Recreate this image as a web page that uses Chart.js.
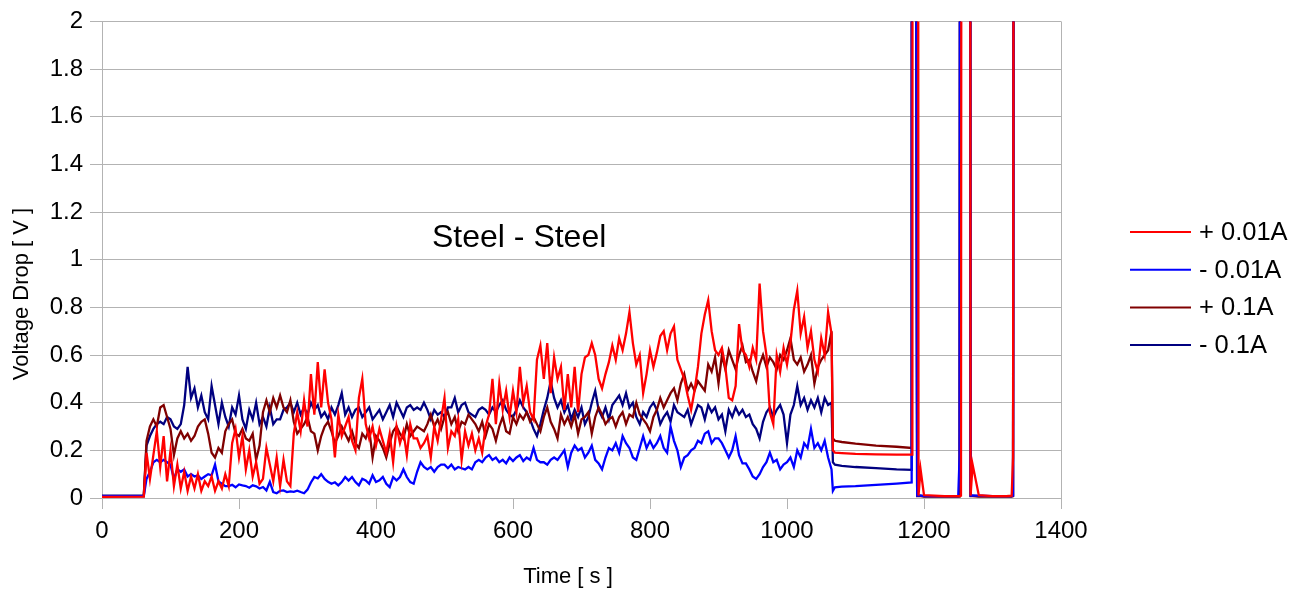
<!DOCTYPE html>
<html>
<head>
<meta charset="utf-8">
<script src="https://cdn.jsdelivr.net/npm/chart.js@4.4.0/dist/chart.umd.min.js"></script>
<style>
  html, body { margin: 0; padding: 0; background: #fff; }
</style>
</head>
<body>
<canvas id="dropChart" width="1302" height="592"></canvas>
<script>
// time axis [s]
const time = [
  0, 61,
  65, 70, 75, 80, 85, 90, 95, 100, 105, 110,
  115, 120, 125, 130, 135, 140, 145, 150, 155, 160,
  165, 170, 175, 180, 185, 190, 195, 200, 205, 210,
  215, 220, 225, 230, 235, 240, 245, 250, 255, 260,
  265, 270, 275, 280, 285, 290, 295, 300, 305, 310,
  315, 320, 325, 330, 335, 340, 345, 350, 355, 360,
  365, 370, 375, 380, 385, 390, 395, 400, 405, 410,
  415, 420, 425, 430, 435, 440, 445, 450, 455, 460,
  465, 470, 475, 480, 485, 490, 495, 500, 505, 510,
  515, 520, 525, 530, 535, 540, 545, 550, 555, 560,
  565, 570, 575, 580, 585, 590, 595, 600, 605, 610,
  615, 620, 625, 630, 635, 640, 645, 650, 655, 660,
  665, 670, 675, 680, 685, 690, 695, 700, 705, 710,
  715, 720, 725, 730, 735, 740, 745, 750, 755, 760,
  765, 770, 775, 780, 785, 790, 795, 800, 805, 810,
  815, 820, 825, 830, 835, 840, 845, 850, 855, 860,
  865, 870, 875, 880, 885, 890, 895, 900, 905, 910,
  915, 920, 925, 930, 935, 940, 945, 950, 955, 960,
  965, 970, 975, 980, 985, 990, 995, 1000, 1005, 1010,
  1015, 1020, 1025, 1030, 1035, 1040, 1045, 1050, 1055, 1060,
  1065,
  1067, 1070, 1080, 1100, 1130, 1160, 1182, 1183, 1184, 1190, 1192, 1195, 1200, 1230,
  1250, 1252, 1254, 1256, 1266, 1268, 1271, 1280, 1300, 1320, 1328, 1330, 1333
];

// + 0.01A
const plus001 = [
  0.005, 0.006,
  .19, .08, .18, .28, .13, .26, .07, .2, .05, .14,
  .04, .11, .03, .09, .04, .1, .03, .07, .05, .09,
  .03, .07, .04, .1, .05, .23, .29, .17, .26, .12,
  .2, .09, .15, .06, .08, .21, .14, .07, .17, .05,
  .16, .07, .05, .27, .36, .28, .41, .3, .52, .35,
  .57, .38, .54, .4, .33, .17, .35, .26, .3, .34,
  .24, .2, .42, .5, .31, .25, .3, .22, .29, .24,
  .19, .27, .15, .3, .23, .28, .18, .31, .25, .25,
  .21, .23, .26, .17, .3, .24, .33, .42, .21, .28,
  .26, .33, .16, .28, .22, .27, .2, .25, .19, .3,
  .35, .5, .31, .48, .37, .45, .34, .45, .36, .55,
  .4, .47, .36, .33, .58, .64, .5, .65, .44, .59,
  .5, .55, .37, .52, .38, .55, .36, .52, .59, .6,
  .65, .6, .5, .46, .52, .57, .64, .58, .67, .62,
  .69, .78, .65, .56, .6, .44, .52, .62, .55, .61,
  .68, .7, .62, .69, .72, .58, .54, .5, .43, .37,
  .45, .55, .69, .77, .83, .7, .62, .6, .63, .55,
  .42, .41, .47, .73, .62, .6, .55, .63, .58, .9,
  .7, .6, .36, .31, .6, .53, .63, .56, .65, .79,
  .87, .69, .76, .63, .7, .58, .53, .67, .6, .78,
  .69,
  .2, .19, .188, .185, .183, .182, .182, .182, 10, 10, .01, .12, .012, .008,
  .008, .008, .01, 10, 10, .01, .14, .012, .008, .008, .01, .17, 10
];

// - 0.01A
const minus001 = [
  0.008, 0.008,
  .08, .11, .15, .16, .15, .16, .15, .14, .08, .12,
  .11, .12, .09, .1, .09, .095, .08, .09, .1, .095,
  .14, .07, .06, .05, .05, .055, .045, .057, .053, .05,
  .043, .053, .049, .04, .046, .032, .068, .025, .02, .03,
  .032, .025, .028, .026, .031, .025, .02, .035, .065, .088,
  .082, .1, .08, .068, .06, .066, .053, .067, .088, .073,
  .088, .067, .053, .081, .074, .06, .095, .067, .074, .088,
  .06, .046, .088, .074, .088, .12, .088, .067, .06, .11,
  .15, .13, .12, .13, .11, .13, .14, .14, .125, .14,
  .12, .13, .125, .12, .13, .12, .15, .16, .15, .17,
  .18, .16, .17, .15, .16, .145, .17, .155, .17, .18,
  .155, .17, .16, .21, .16, .15, .15, .14, .16, .17,
  .16, .18, .2, .13, .19, .22, .2, .21, .17, .19,
  .22, .16, .145, .12, .17, .21, .2, .23, .19, .26,
  .23, .21, .17, .16, .21, .26, .21, .24, .21, .23,
  .26, .21, .19, .3, .24, .2, .13, .17, .18, .2,
  .21, .24, .23, .27, .28, .23, .25, .25, .23, .2,
  .17, .2, .26, .18, .145, .145, .12, .09, .08, .1,
  .13, .15, .19, .15, .16, .12, .14, .15, .17, .13,
  .2, .17, .23, .21, .29, .21, .23, .2, .24, .17,
  .12,
  .03, .045, .048, .05, .055, .06, .065, 10, 10, .01, .01, .01, .008, .008,
  .008, .18, 10, 10, 10, .01, .01, .01, .008, .008, .008, .01, 10
];

// + 0.1A
const plus01 = [
  0.008, 0.008,
  .24, .3, .33, .3, .38, .39, .34, .29, .18, .25,
  .28, .25, .27, .24, .26, .3, .32, .33, .27, .19,
  .17, .21, .19, .28, .31, .33, .27, .26, .29, .25,
  .24, .27, .16, .22, .36, .41, .36, .42, .38, .43,
  .38, .36, .41, .32, .27, .29, .31, .34, .28, .27,
  .2, .26, .3, .32, .28, .23, .26, .3, .27, .24,
  .28, .23, .21, .27, .25, .29, .17, .26, .24, .21,
  .17, .23, .28, .3, .27, .25, .31, .26, .28, .3,
  .29, .28, .31, .35, .3, .33, .29, .34, .36, .31,
  .34, .28, .32, .31, .35, .33, .31, .28, .32, .26,
  .31, .29, .24, .3, .34, .28, .27, .34, .31, .35,
  .33, .36, .32, .34, .31, .28, .34, .38, .32, .29,
  .25, .35, .31, .34, .3, .35, .27, .33, .34, .36,
  .27, .34, .38, .35, .31, .33, .34, .3, .34, .36,
  .31, .35, .34, .4, .35, .33, .31, .28, .34, .37,
  .42, .38, .41, .44, .46, .41, .48, .52, .45, .48,
  .45, .49, .47, .45, .56, .53, .59, .48, .6, .54,
  .62, .58, .54, .6, .64, .57, .58, .53, .49, .56,
  .6, .55, .59, .57, .54, .6, .58, .62, .67, .58,
  .56, .59, .53, .56, .6, .48, .55, .58, .6, .62,
  .7,
  .25, .24, .235, .228, .22, .215, .21, 10, 10, .008, .008, .008, .006, .006,
  .006, .006, 10, 10, 10, .008, .008, .006, .006, .006, .006, .008, 10
];

// - 0.1A
const minus01 = [
  0.01, 0.01,
  .22, .26, .29, .31, .32, .31, .34, .33, .3, .29,
  .31, .39, .55, .42, .46, .38, .43, .36, .33, .47,
  .39, .31, .4, .34, .3, .38, .35, .43, .33, .29,
  .37, .33, .4, .31, .34, .3, .38, .31, .33, .33,
  .37, .38, .4, .36, .4, .35, .38, .35, .4, .37,
  .39, .34, .36, .33, .38, .35, .39, .44, .35, .38,
  .34, .37, .38, .34, .36, .38, .33, .35, .37, .33,
  .36, .39, .34, .4, .37, .34, .38, .39, .37, .38,
  .37, .4, .37, .33, .37, .35, .36, .34, .38, .38,
  .42, .36, .39, .4, .36, .35, .34, .37, .38, .37,
  .35, .38, .36, .39, .41, .37, .35, .34, .37, .41,
  .38, .36, .33, .29, .26, .31, .37, .42, .49, .42,
  .38, .41, .36, .39, .33, .37, .34, .38, .31, .34,
  .4, .45, .37, .34, .38, .33, .39, .41, .43, .39,
  .44, .38, .4, .34, .31, .36, .34, .38, .4, .37,
  .31, .34, .36, .32, .39, .36, .35, .34, .37, .31,
  .35, .39, .38, .33, .39, .36, .38, .33, .35, .28,
  .37, .34, .38, .35, .37, .34, .35, .31, .29, .25,
  .32, .36, .38, .34, .37, .39, .35, .23, .35, .39,
  .47, .39, .42, .37, .41, .38, .42, .36, .42, .39,
  .4,
  .15, .14, .135, .13, .125, .12, .118, 10, 10, .01, .01, .01, .008, .008,
  .008, .01, 10, 10, 10, .01, .01, .008, .008, .008, .008, .01, 10
];

const seriesNames = ['+ 0.01A', '- 0.01A', '+ 0.1A', '- 0.1A'];
const seriesColors = ['#ff0000', '#0000ff', '#800000', '#000080'];
const seriesValues = [plus001, minus001, plus01, minus01];

const annotation = 'Steel - Steel';
const xTitle = 'Time [ s ]';
const yTitle = 'Voltage Drop [ V ]';

const FONT = '"Liberation Sans", Arial, sans-serif';
const GRID = '#b3b3b3';

// legend, axis titles and the in-plot label
const extraText = {
  id: 'extraText',
  afterDraw(chart) {
    const { ctx } = chart;
    const x = chart.scales.x, y = chart.scales.y;
    ctx.save();
    ctx.fillStyle = '#000';
    ctx.textBaseline = 'middle';

    ctx.font = '32px ' + FONT;
    ctx.textAlign = 'center';
    ctx.fillText(annotation, x.getPixelForValue(609), y.getPixelForValue(1.09));

    ctx.font = '22px ' + FONT;
    ctx.fillText(xTitle, 568, 577);
    ctx.save();
    ctx.translate(22, 294);
    ctx.rotate(-Math.PI / 2);
    ctx.fillText(yTitle, 0, 0);
    ctx.restore();

    ctx.font = '25.5px ' + FONT;
    ctx.textAlign = 'left';
    chart.data.datasets.forEach((ds, i) => {
      const ly = 232 + i * 37.7;
      ctx.strokeStyle = ds.borderColor;
      ctx.lineWidth = 2;
      ctx.beginPath();
      ctx.moveTo(1130, ly);
      ctx.lineTo(1191, ly);
      ctx.stroke();
      ctx.fillText(ds.label, 1199, ly + 1);
    });
    ctx.restore();
  }
};

new Chart(document.getElementById('dropChart'), {
  type: 'line',
  data: {
    datasets: seriesNames.map((name, k) => ({
      label: name,
      data: time.map((t, i) => ({ x: t, y: seriesValues[k][i] })),
      borderColor: seriesColors[k],
      backgroundColor: seriesColors[k],
      borderWidth: 2.3,
      pointRadius: 0,
      tension: 0,
      fill: false,
      clip: 0
    }))
  },
  options: {
    responsive: false,
    animation: false,
    layout: { padding: { top: 18, right: 241, bottom: 0, left: 0 } },
    plugins: {
      legend: { display: false },
      tooltip: { enabled: false }
    },
    scales: {
      x: {
        type: 'linear',
        min: 0,
        max: 1400,
        afterFit: s => { s.height = 94; },
        ticks: {
          stepSize: 200,
          maxRotation: 0,
          padding: 8,
          color: '#000',
          font: { family: FONT, size: 24 },
          callback: v => String(v)
        },
        grid: {
          color: c => (c.tick && c.tick.value === 1400) ? GRID : 'rgba(0,0,0,0)',
          tickColor: GRID,
          tickLength: 11,
          lineWidth: 1
        },
        border: { color: GRID }
      },
      y: {
        min: 0,
        max: 2,
        afterFit: s => { s.width = 102; },
        ticks: {
          stepSize: 0.2,
          padding: 7,
          color: '#000',
          font: { family: FONT, size: 24 },
          callback: v => String(Math.round(v * 10) / 10)
        },
        grid: {
          color: GRID,
          tickColor: GRID,
          tickLength: 12,
          lineWidth: 1
        },
        border: { color: GRID }
      }
    }
  },
  plugins: [extraText]
});
</script>
</body>
</html>
